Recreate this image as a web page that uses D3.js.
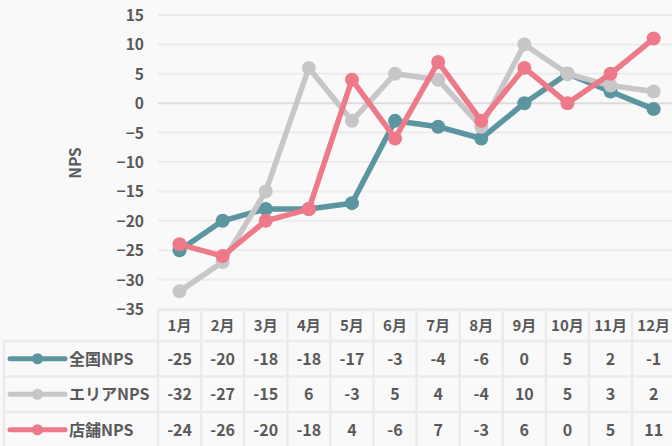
<!DOCTYPE html>
<html><head><meta charset="utf-8">
<script src="https://cdn.jsdelivr.net/npm/d3@7"></script>
<style>
html,body{margin:0;padding:0;background:#f9f9f9;}
svg{display:block;}
text{font-family:"Noto Sans CJK JP","Noto Sans",sans-serif;font-weight:700;fill:#595959;}
</style></head>
<body><svg id="c" width="672" height="446"></svg>
<script>
const months = ["1月","2月","3月","4月","5月","6月","7月","8月","9月","10月","11月","12月"];
const seriesNames = ["全国NPS","エリアNPS","店舗NPS"];
const national = [-25,-20,-18,-18,-17,-3,-4,-6,0,5,2,-1];
const area = [-32,-27,-15,6,-3,5,4,-4,10,5,3,2];
const store = [-24,-26,-20,-18,4,-6,7,-3,6,0,5,11];
const colors = ["#5b96a0","#c8c6c8","#ee7a89"];
const yTicks = [15,10,5,0,-5,-10,-15,-20,-25,-30,-35];
const yTitle = "NPS";

const series = [national, area, store];
const svg = d3.select("#c");
const colW = 43.1, x0 = 158;
const x = d3.scaleBand().domain(months).range([x0, x0 + colW*12]).padding(0);
const y = d3.scaleLinear().domain([-35,15]).range([309,15]);

// gridlines
svg.append("g").selectAll("line").data(yTicks).join("line")
  .attr("x1", x0).attr("x2", 672)
  .attr("y1", d=>y(d)).attr("y2", d=>y(d))
  .attr("stroke", d=> d===0 ? "#dcdcdc" : "#ececec").attr("stroke-width", 2);

// y axis labels
const yAxis = d3.axisLeft(y).tickValues(yTicks).tickSize(0).tickPadding(0);
const ga = svg.append("g").attr("transform","translate(144,0)").call(yAxis);
ga.select(".domain").remove();
ga.selectAll("text").attr("font-size",15.5).attr("dy","0.35em")
  .style("font-family",'"Noto Sans CJK JP",sans-serif').style("font-weight",700).attr("fill","#595959");

svg.append("text").attr("transform","translate(81,163) rotate(-90)")
  .attr("text-anchor","middle").attr("font-size",15.5).text(yTitle);

// lines
const line = d3.line().x((d,i)=>x(months[i])+colW/2).y(d=>y(d));
series.forEach((s,k)=>{
  const g = svg.append("g");
  g.append("path").datum(s).attr("d",line).attr("fill","none")
    .attr("stroke",colors[k]).attr("stroke-width",5.5).attr("stroke-linejoin","round");
  g.selectAll("circle").data(s).join("circle")
    .attr("cx",(d,i)=>x(months[i])+colW/2).attr("cy",d=>y(d)).attr("r",7).attr("fill",colors[k]);
});

// table
const rowTop = 310, headH = 31, rowH = 35.5, leftX = 4;
const tg = svg.append("g");
const gridC = "#ebebeb";
const hy = [rowTop, rowTop+headH, rowTop+headH+rowH, rowTop+headH+2*rowH, rowTop+headH+3*rowH];
hy.forEach((yy,i)=>{
  tg.append("line").attr("x1", i===0 ? x0 : leftX).attr("x2", 680)
    .attr("y1",yy).attr("y2",yy).attr("stroke",gridC).attr("stroke-width",2.5);
});
tg.append("line").attr("x1",leftX).attr("x2",leftX).attr("y1",rowTop+headH).attr("y2",446).attr("stroke",gridC).attr("stroke-width",2.5);
d3.range(13).forEach(i=>{
  const xx = x0 + i*colW;
  tg.append("line").attr("x1",xx).attr("x2",xx).attr("y1",rowTop).attr("y2",446).attr("stroke",gridC).attr("stroke-width",2.5);
});
tg.selectAll("text.h").data(months).join("text").attr("class","h")
  .attr("x",d=>x(d)+colW/2).attr("y",rowTop+headH/2).attr("dy","0.36em")
  .attr("text-anchor","middle").attr("font-size",15).text(d=>d);
series.forEach((s,k)=>{
  const cy = rowTop+headH+rowH*k+rowH/2;
  tg.append("line").attr("x1",10).attr("x2",65).attr("y1",cy).attr("y2",cy)
    .attr("stroke",colors[k]).attr("stroke-width",5).attr("stroke-linecap","round");
  tg.append("circle").attr("cx",37.5).attr("cy",cy).attr("r",5.5).attr("fill",colors[k]);
  tg.append("text").attr("x",69).attr("y",cy).attr("dy","0.36em").attr("font-size",16).text(seriesNames[k]);
  tg.selectAll("text.v"+k).data(s).join("text").attr("class","v"+k)
    .attr("x",(d,i)=>x(months[i])+colW/2).attr("y",cy).attr("dy","0.36em")
    .attr("text-anchor","middle").attr("font-size",16).text(d=>d);
});
</script></body></html>
